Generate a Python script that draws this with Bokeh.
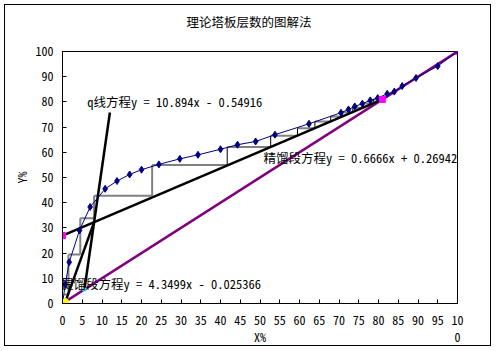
from bokeh.plotting import figure
from bokeh.models import Label, Range1d, FixedTicker, LinearAxis
from bokeh.embed import file_html
from bokeh.resources import INLINE

FONT = "Noto Sans Mono CJK SC"

title_text = "理论塔板层数的图解法"
x_label = "X%"
y_label = "Y%"
x_ticks = list(range(0, 101, 5))
y_ticks = list(range(0, 101, 10))

# equilibrium curve (%)
eq_x = [0, 0.7, 1.7, 4.3, 7.0, 10.8, 13.8, 17.0, 20.0, 24.4, 29.7, 34.3, 40.0, 44.3,
        48.9, 53.8, 62.4, 70.5, 72.4, 74.0, 75.9, 77.9, 79.8, 82.2, 84.0, 86.0, 89.5, 95.0, 100]
eq_y = [0, 7.6, 16.4, 29.0, 38.3, 45.5, 48.6, 51.2, 53.1, 55.2, 57.4, 59.0, 61.2, 63.0,
        64.3, 67.0, 71.3, 75.7, 77.0, 78.2, 79.3, 80.6, 81.5, 83.2, 84.1, 86.3, 89.5, 94.2, 100]

diag_x = [0, 100]
diag_y = [0, 100]
rect_x = [0, 81.0]
rect_y = [26.94, 81.0]
q_x = [5.55, 12.0]
q_y = [5.55, 75.8]
strip_x = [0.76, 8.0]
strip_y = [0.76, 32.3]

# staircase corners
step_x = [81.0, 78.7, 78.7, 76.2, 76.2, 73.5, 73.5, 70.9, 70.9, 67.9, 67.9, 63.9, 63.9, 59.5,
          59.5, 52.7, 52.7, 41.7, 41.7, 22.7, 22.7, 8.0, 8.0, 4.5, 4.5, 1.5, 1.5, 0.4]
step_y = [81.0, 81.0, 79.4, 79.4, 77.7, 77.7, 75.9, 75.9, 74.2, 74.2, 72.2, 72.2, 69.5, 69.5,
          66.6, 66.6, 62.1, 62.1, 55.0, 55.0, 42.8, 42.8, 33.8, 33.8, 19.4, 19.4, 3.6, 3.6]

eq_labels = ["q线方程y = 10.894x - 0.54916",
             "精馏段方程y = 0.6666x + 0.26942",
             "提馏段方程y = 4.3499x - 0.025366"]

p = figure(width=487, height=342, x_range=Range1d(0, 100), y_range=Range1d(0, 100),
           output_backend="svg", toolbar_location=None,
           min_border_left=57, min_border_right=35, min_border_top=46, min_border_bottom=44,
           margin=(4, 4, 4, 4), styles={"border": "1px solid black"})

# trailing blank line lifts the title away from the plot area
p.title.text = title_text + "\n "
p.title.align = "left"
p.title.offset = 124
p.title.standoff = 4
p.title.text_font = FONT
p.title.text_font_size = "12.5px"
p.title.text_font_style = "normal"
p.title.text_color = "black"

p.xgrid.visible = False
p.ygrid.visible = False
p.outline_line_color = "black"
p.outline_line_width = 1
p.background_fill_color = "white"
p.border_fill_color = "white"

p.xaxis.ticker = FixedTicker(ticks=x_ticks)
p.yaxis.ticker = FixedTicker(ticks=y_ticks)
p.xaxis.major_label_overrides = {100: "10"}
for ax in (p.xaxis[0], p.yaxis[0]):
    ax.major_tick_in = 4
    ax.major_tick_out = 0
    ax.minor_tick_line_color = None
    ax.axis_line_color = "black"
    ax.major_tick_line_color = "black"
    ax.major_label_text_font = FONT
    ax.major_label_text_font_size = "12px"
    ax.major_label_text_color = "black"
    ax.axis_label_text_font = FONT
    ax.axis_label_text_font_size = "12px"
    ax.axis_label_text_font_style = "normal"
    ax.axis_label_text_color = "black"
p.yaxis.axis_label = y_label
p.xaxis.major_label_standoff = 12
p.yaxis.major_label_standoff = 9
p.yaxis.axis_label_standoff = 2

# second row below the x axis: axis title and the wrapped "0" of "100"
ax2 = LinearAxis(ticker=FixedTicker(ticks=[50, 100]),
                 major_label_overrides={50: x_label, 100: "0"})
ax2.axis_line_color = None
ax2.major_tick_line_color = None
ax2.minor_tick_line_color = None
ax2.major_tick_in = 0
ax2.major_tick_out = 0
ax2.major_label_standoff = 0
ax2.major_label_text_font = FONT
ax2.major_label_text_font_size = "12px"
ax2.major_label_text_color = "black"
p.add_layout(ax2, "below")

# diagonal
p.line(diag_x, diag_y, line_color="#800080", line_width=2.5)

# staircase
h_x0 = step_x[0::2]
h_x1 = step_x[1::2]
h_y = step_y[0::2]
p.segment(x0=h_x0, y0=h_y, x1=h_x1, y1=h_y, line_color="#808080", line_width=2)
v_x = step_x[1:-1:2]
v_y0 = step_y[1:-1:2]
v_y1 = step_y[2::2]
v_col = ["black" if vx >= 41 else "#808080" for vx in v_x]
v_w = [1 if vx >= 41 else 2 for vx in v_x]
p.segment(x0=v_x, y0=v_y0, x1=v_x, y1=v_y1, line_color=v_col, line_width=v_w)

# operating lines
p.line(rect_x, rect_y, line_color="black", line_width=2.5)
p.line(q_x, q_y, line_color="black", line_width=2.5)
p.line(strip_x, strip_y, line_color="black", line_width=2.5)

# equilibrium curve
p.line(eq_x, eq_y, line_color="#000080", line_width=1)
p.scatter(eq_x, eq_y, marker="diamond", size=7, color="#000080")

# markers
p.scatter(diag_x, diag_y, marker="asterisk", size=8, line_color="#800080", line_width=1.5)
p.scatter(rect_x, rect_y, marker="square", size=6, color="#FF00FF")
p.scatter(q_x[:1], q_y[:1], marker="x", size=5, line_color="#00FFFF", line_width=1.5)
p.scatter(strip_x[:1], strip_y[:1], marker="circle", size=6, color="#FFFF00")

# equation labels
pos = [(6.27, 80.2), (50.9, 58.0), (-0.4, 8.0)]
for (lx, ly), t in zip(pos, eq_labels):
    p.add_layout(Label(x=lx, y=ly, text=t, text_align="left", text_baseline="middle",
                       text_font=FONT, text_font_size="12.5px", text_color="black"))

open("out.html", "w").write(file_html(p, INLINE))
